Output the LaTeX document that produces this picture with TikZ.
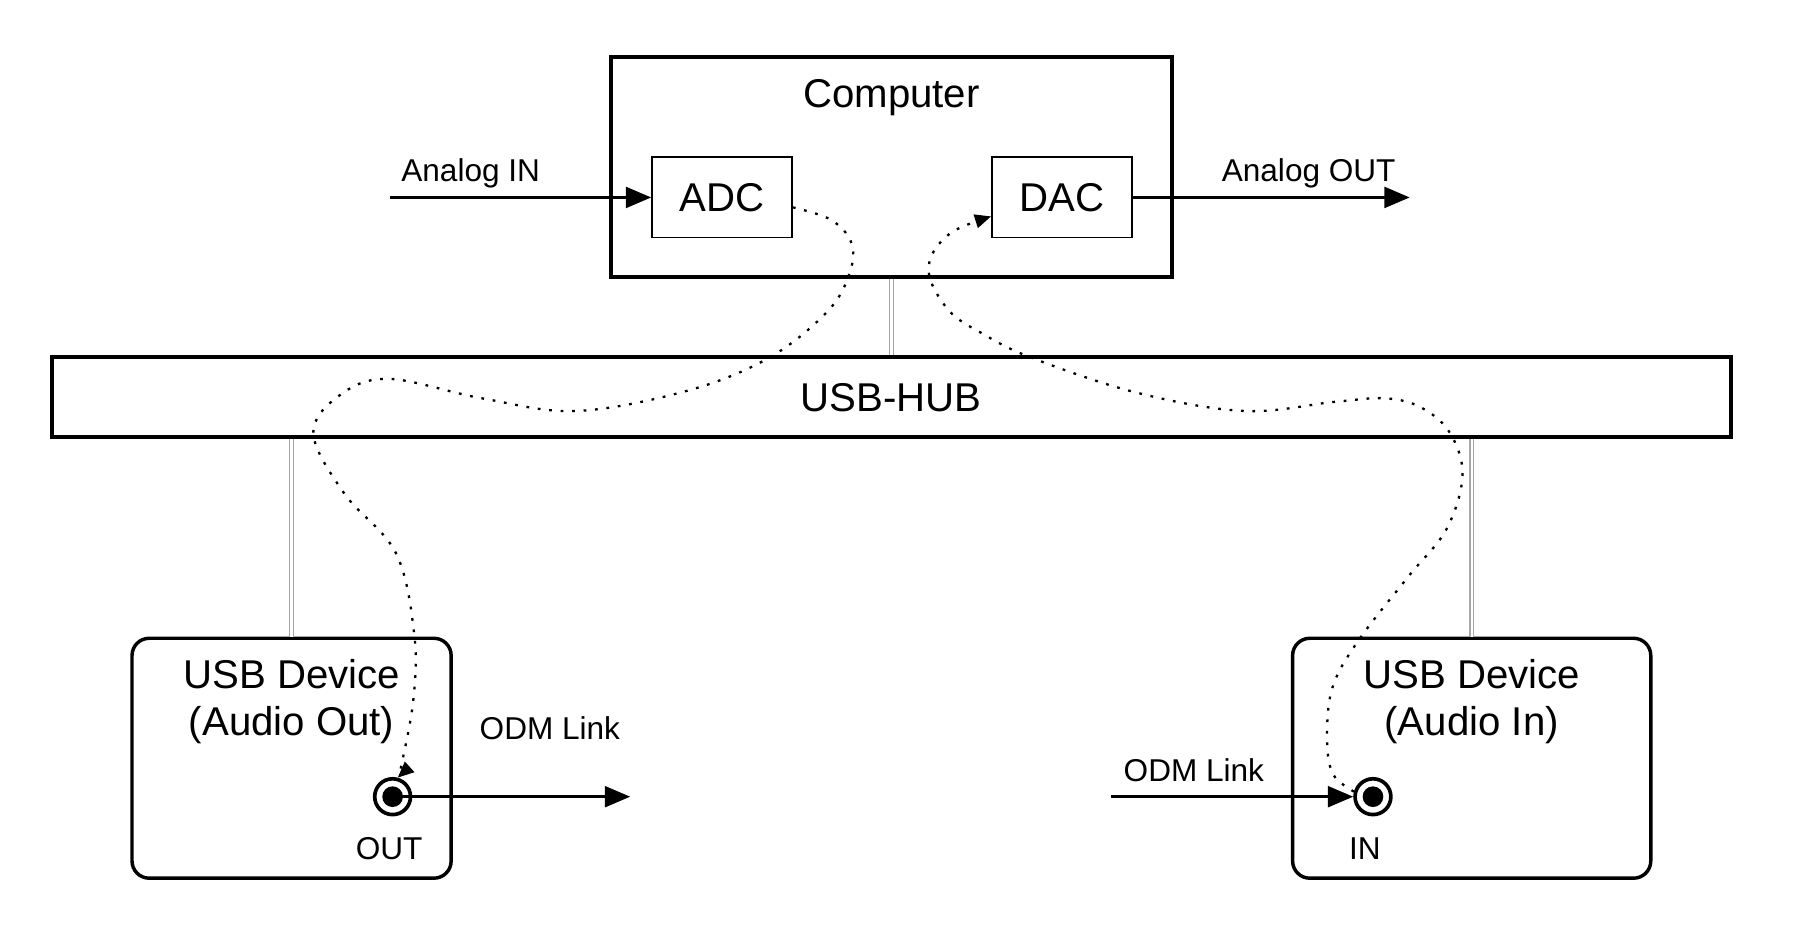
\documentclass[tikz,border=0pt]{standalone}
\usepackage{fontspec}
\setmainfont{Liberation Sans}
\usetikzlibrary{positioning}
\usetikzlibrary{arrows.meta}

\begin{document}
\begin{tikzpicture}[x=0.5pt, y=-0.5pt,
    bigfont/.style={font=\fontsize{17.5}{20.5}\selectfont},
    smallfont/.style={font=\fontsize{13.75}{16}\selectfont},
    block/.style={draw, line width=1.7pt, inner sep=0pt},
    conv/.style={draw, line width=0.7pt, minimum width=61pt, minimum height=35pt, inner sep=0pt, bigfont},
    device/.style={draw, line width=1.5pt, rounded corners=7.5pt, minimum height=104.5pt},
    jack/.style={circle, draw, line width=1.6pt, minimum size=15.6pt, inner sep=0pt,
      path picture={\fill (path picture bounding box.center) circle (4.5pt);}},
    usb/.style={draw=gray!70, line width=0.5pt, double=white, double distance=1pt},
    sig/.style={line width=1.35pt, -{Triangle[length=11pt,width=9pt]}},
    flow/.style={line width=1pt, dash pattern=on 1.2pt off 3.8pt, -{Triangle[length=7pt,width=6pt]}},
    lbl/.style={smallfont, anchor=base, inner sep=0pt}]
    \useasboundingbox (0,0) rectangle (1568,819);

    \node [block, minimum width=244.5pt, minimum height=95.5pt] (comp) at (776.5,145.5) {};
    \node [bigfont, anchor=base, inner sep=0pt] (comptitle) at (776.5,94) {Computer};
    \node [conv] (adc) at (629,172) {ADC};
    \node [conv] (dac) at (925,172) {DAC};
    \node [block, minimum width=731.5pt, minimum height=35pt, bigfont] (hub) at (776.5,346) {USB-HUB};

    \node [device, minimum width=139pt] (devout) at (254,660.5) {};
    \node [device, minimum width=156pt] (devin) at (1282,660.5) {};
    \node [bigfont, align=center] (devouttxt) at (254,611.5) {USB Device\\(Audio Out)};
    \node [bigfont, align=center] (devintxt) at (1282,611.5) {USB Device\\(Audio In)};
    \node [jack] (out) at (342,694) {};
    \node [jack] (in) at (1196,694) {};
    \node [lbl] (outlbl) at (339,749) {OUT};
    \node [lbl] (inlbl) at (1189,749) {IN};

    \coordinate (ain) at (340,172);
    \coordinate (aout) at (1228,172);
    \coordinate (odmout) at (549,694);
    \coordinate (odmin) at (968,694);
    \node [lbl] (ainlbl) at (410,158) {Analog IN};
    \node [lbl] (aoutlbl) at (1140,158) {Analog OUT};
    \node [lbl] (odmoutlbl) at (479,644) {ODM Link};
    \node [lbl] (odminlbl) at (1040,681) {ODM Link};

    \draw [usb] (comp) -- (hub);
    \draw [usb] (devout) -- (devout |- hub.south);
    \draw [usb] (devin) -- (devin |- hub.south);

    \draw [sig] (ain) -- (adc);
    \draw [sig] (dac) -- (aout);
    \draw [sig] (out.center) -- (odmout);
    \draw [sig] (odmin) -- (in);

    %\draw [flow] (adc.east) to[out=0,in=90] (out.north);
    \draw [flow] plot[smooth, tension=0.6] coordinates {(adc.-8) (723,191) (741,210) (741,235) (722,270)
      (671,311) (600,340) (502,358) (420,347) (338,330) (295,345) (273,378) (300,430) (345,482)
      (361,554) (360,610) (350,665) (out.75)};
    \draw [flow] plot[smooth, tension=0.6] coordinates {(in.165) (1161,674) (1156,642) (1161,598)
      (1184,557) (1227,502) (1260,461) (1274,414) (1263,377) (1238,355) (1207,347) (1163,350)
      (1084,358) (990,342) (897,311) (853,289) (829,273) (813,250) (809,232) (816,215) (833,200)
      (dac.-165)};
\end{tikzpicture}
\end{document}
